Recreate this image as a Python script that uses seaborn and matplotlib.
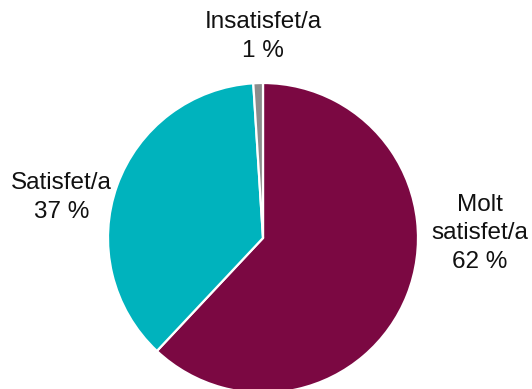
import matplotlib
matplotlib.use("Agg")
import matplotlib.pyplot as plt
import seaborn as sns

# data
labels = ['Molt\nsatisfet/a', 'Satisfet/a', 'Insatisfet/a']
values = [62, 37, 1]
colors = ['#7B0842', '#00B3BD', '#8C8C8C']

sns.set_style('white')
plt.rcParams['font.family'] = ['Liberation Sans', 'DejaVu Sans']

fig = plt.figure(figsize=(5.32, 3.89), dpi=100)
ax = fig.add_axes([0, 0, 1, 1])

ax.pie(values, colors=colors, startangle=90, counterclock=False,
       radius=1, wedgeprops={'edgecolor': 'white', 'linewidth': 1.6})

# map pie centre (263, 238 px from top) and radius 155 px
r = 155
cx, cy = 263, 389 - 238
ax.set_xlim(-cx / r, (532 - cx) / r)
ax.set_ylim(-cy / r, (389 - cy) / r)
ax.set_aspect('auto')
ax.axis('off')

# label positions (data units)
label_pos = [(1.40, 0.03), (-1.30, 0.26), (0.0, 1.30)]
for lab, v, (x, y) in zip(labels, values, label_pos):
    ax.text(x, y, f'{lab}\n{v} %', ha='center', va='center',
            fontsize=17.5, color='#111111', linespacing=1.4)

fig.savefig('out.png', dpi=100)
